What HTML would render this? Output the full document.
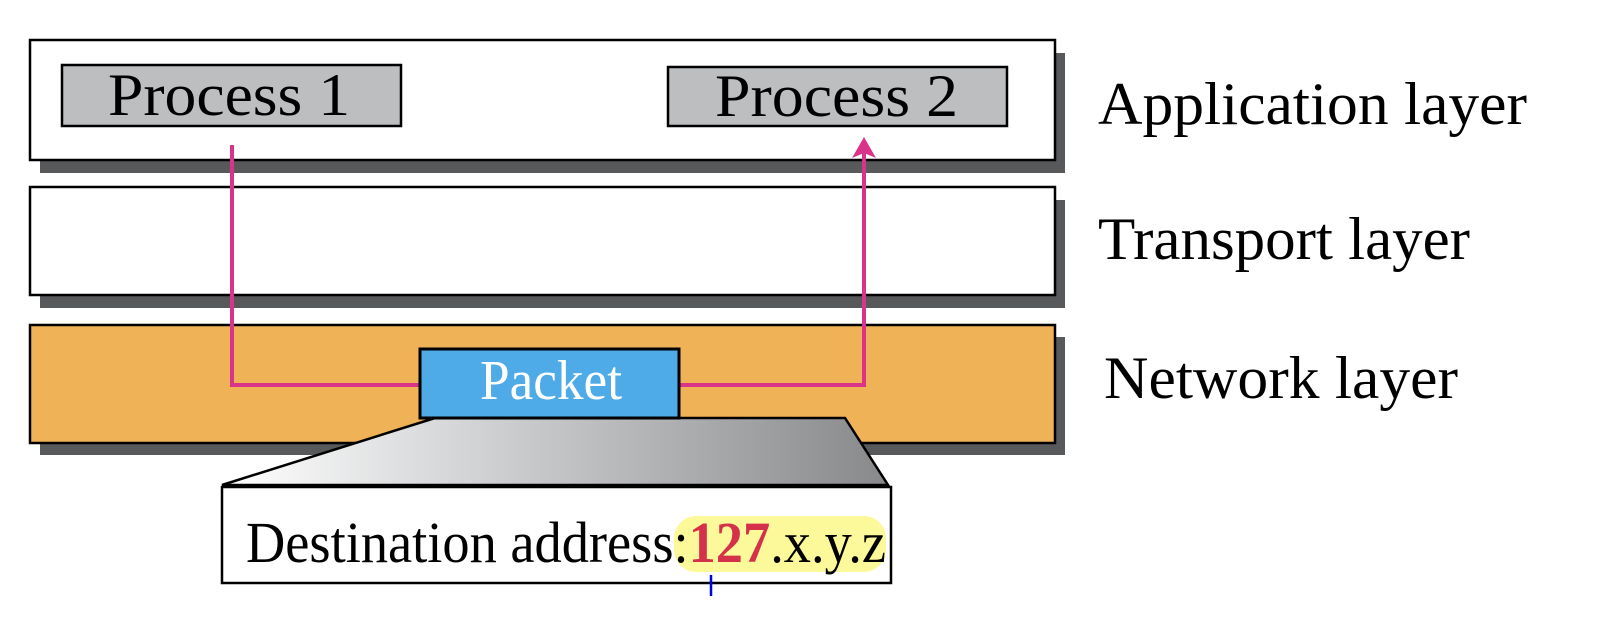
<!DOCTYPE html>
<html><head><style>
body{margin:0;width:1616px;height:614px;background:#fff;overflow:hidden}
</style></head><body>
<svg width="1616" height="614" xmlns="http://www.w3.org/2000/svg" font-family="Liberation Serif, serif">
<defs><linearGradient id="g" x1="0" x2="1"><stop offset="0" stop-color="#fff"/><stop offset="0.4" stop-color="#cfd0d2"/><stop offset="1" stop-color="#88898b"/></linearGradient></defs>
<rect x="40" y="53" width="1025" height="120" fill="#58595b"/>
<rect x="30" y="40" width="1025" height="120" fill="#fff" stroke="#000" stroke-width="2.5"/>
<rect x="40" y="200" width="1025" height="108" fill="#58595b"/>
<rect x="30" y="187" width="1025" height="108" fill="#fff" stroke="#000" stroke-width="2.5"/>
<rect x="40" y="337" width="1025" height="118" fill="#58595b"/>
<rect x="30" y="325" width="1025" height="118" fill="#f0b257" stroke="#000" stroke-width="2.5"/>
<rect x="62" y="65" width="339" height="61" fill="#bcbec0" stroke="#000" stroke-width="2.5"/>
<text x="108" y="115" font-size="60" textLength="242" lengthAdjust="spacingAndGlyphs">Process 1</text>
<rect x="668" y="67" width="339" height="59" fill="#bcbec0" stroke="#000" stroke-width="2.5"/>
<text x="715" y="116" font-size="60" textLength="243" lengthAdjust="spacingAndGlyphs">Process 2</text>
<polyline points="232,145 232,385 420,385" fill="none" stroke="#d9338a" stroke-width="4"/>
<polyline points="679,385 864,385 864,150" fill="none" stroke="#d9338a" stroke-width="4"/>
<polygon points="864,137 852,158 864,153 876,158" fill="#d9338a"/>
<polygon points="435,418 845,418 888,485 222,485" fill="url(#g)" stroke="#000" stroke-width="2.5"/>
<rect x="420" y="349" width="259" height="69" fill="#4eabe8" stroke="#000" stroke-width="3"/>
<text x="480" y="399" font-size="56" fill="#fff" textLength="142" lengthAdjust="spacingAndGlyphs">Packet</text>
<rect x="222" y="487" width="669" height="96" fill="#fff" stroke="#000" stroke-width="2.5"/>
<rect x="674" y="516" width="212" height="56" rx="22" fill="#fcf99a"/>
<text x="246" y="562" font-size="58" textLength="640" lengthAdjust="spacingAndGlyphs">Destination address:<tspan fill="#d6314a" font-weight="bold">127</tspan>.x.y.z</text>
<line x1="711" y1="575" x2="711" y2="596" stroke="#0000ee" stroke-width="2.5"/>
<text x="1098" y="124" font-size="60" textLength="429" lengthAdjust="spacingAndGlyphs">Application layer</text>
<text x="1098" y="259" font-size="60" textLength="372" lengthAdjust="spacingAndGlyphs">Transport layer</text>
<text x="1104" y="398" font-size="60" textLength="354" lengthAdjust="spacingAndGlyphs">Network layer</text>
</svg>
</body></html>
